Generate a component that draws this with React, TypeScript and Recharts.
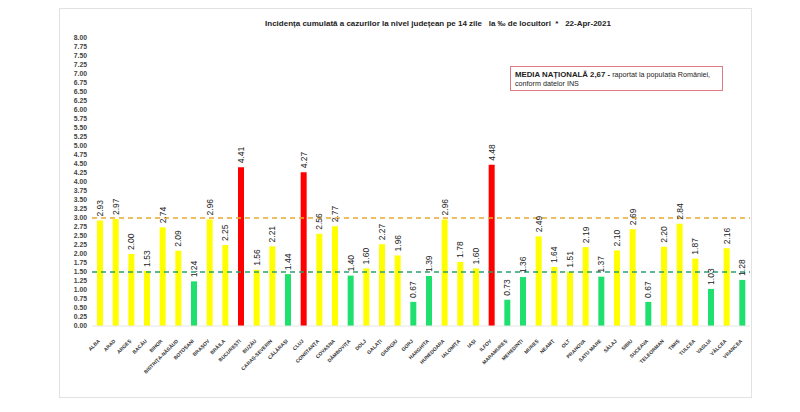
import { BarChart, Bar, XAxis, YAxis, Cell, ReferenceLine, LabelList } from 'recharts';

const counties = [
  'ALBA', 'ARAD', 'ARGEȘ', 'BACĂU', 'BIHOR', 'BISTRIȚA-NĂSĂUD', 'BOTOȘANI', 'BRAȘOV', 'BRĂILA',
  'BUCUREȘTI', 'BUZĂU', 'CARAȘ-SEVERIN', 'CĂLĂRAȘI', 'CLUJ', 'CONSTANȚA', 'COVASNA', 'DÂMBOVIȚA',
  'DOLJ', 'GALAȚI', 'GIURGIU', 'GORJ', 'HARGHITA', 'HUNEDOARA', 'IALOMIȚA', 'IAȘI', 'ILFOV',
  'MARAMUREȘ', 'MEHEDINȚI', 'MUREȘ', 'NEAMȚ', 'OLT', 'PRAHOVA', 'SATU MARE', 'SĂLAJ', 'SIBIU',
  'SUCEAVA', 'TELEORMAN', 'TIMIȘ', 'TULCEA', 'VASLUI', 'VÂLCEA', 'VRANCEA',
];

const incidence = [
  2.93, 2.97, 2.0, 1.53, 2.74, 2.09, 1.24, 2.96, 2.25,
  4.41, 1.56, 2.21, 1.44, 4.27, 2.56, 2.77, 1.4,
  1.6, 2.27, 1.96, 0.67, 1.39, 2.96, 1.78, 1.6, 4.48,
  0.73, 1.36, 2.49, 1.64, 1.51, 2.19, 1.37, 2.1, 2.69,
  0.67, 2.2, 2.84, 1.87, 1.03, 2.16, 1.28,
];

const yTicks = Array.from({ length: 33 }, (_, i) => i * 0.25);

const data = counties.map((name, i) => ({ name, value: incidence[i] }));

function barColor(v: number) {
  if (v > 3) return '#ff0000';
  if (v < 1.5) return '#1fe06e';
  return '#ffff00';
}

const FONT = '"Liberation Sans", Arial, sans-serif';

function ValueLabel(props: any) {
  const { x, y, width, value } = props;
  const cx = x + width / 2;
  const ty = y - 4;
  return (
    <text
      x={cx}
      y={ty}
      transform={`rotate(-90, ${cx}, ${ty})`}
      textAnchor="start"
      dominantBaseline="central"
      fontSize={8.5}
      fontFamily={FONT}
      fill="#222"
    >
      {Number(value).toFixed(2)}
    </text>
  );
}

function CountyTick(props: any) {
  const { x, y, payload } = props;
  const tx = x - 1;
  const ty = y + 6;
  return (
    <text
      x={tx}
      y={ty}
      transform={`rotate(-45, ${tx}, ${ty})`}
      textAnchor="end"
      dominantBaseline="central"
      fontSize={5}
      fontWeight="bold"
      fontFamily={FONT}
      fill="#333"
    >
      {payload.value}
    </text>
  );
}

export default function App() {
  return (
    <div style={{ position: 'absolute', left: 0, top: 0, width: 800, height: 412, background: '#fff', fontFamily: FONT }}>
      <div style={{ position: 'absolute', left: 59, top: 8, width: 691, height: 388, border: '1px solid #e2e2e2' }} />
      <div style={{ position: 'absolute', left: 263, top: 19, width: 350, textAlign: 'center', fontSize: 8, fontWeight: 'bold', color: '#222', whiteSpace: 'pre' }}>
        {'Incidența cumulată a cazurilor la nivel județean pe 14 zile   la ‰ de locuitori  *   22-Apr-2021'}
      </div>
      <div style={{ position: 'absolute', left: 510, top: 66, width: 213, height: 25, border: '1px solid #e07a80', boxSizing: 'border-box', padding: '3px 0 0 4px', fontSize: 7.2, lineHeight: '9px', color: '#222' }}>
        <span style={{ fontWeight: 'bold', fontSize: 7.8 }}>MEDIA NAȚIONALĂ 2,67 - </span>
        raportat la populația României,
        <br />
        conform datelor INS
      </div>
      <div style={{ position: 'absolute', left: 0, top: 0 }}>
        <BarChart width={800} height={412} data={data} margin={{ top: 38, right: 50, bottom: 36, left: 62 }} barCategoryGap={0}>
          <XAxis
            dataKey="name"
            interval={0}
            tick={<CountyTick />}
            tickLine={false}
            axisLine={{ stroke: '#e6e6e6' }}
            height={50}
          />
          <YAxis
            domain={[0, 8]}
            ticks={yTicks}
            interval={0}
            width={30}
            tickSize={0}
            tickMargin={5}
            tickLine={false}
            axisLine={false}
            tickFormatter={(v: number) => v.toFixed(2)}
            tick={{ fontSize: 6.8, fontWeight: 'bold', fill: '#444', fontFamily: FONT }}
          />
          <Bar dataKey="value" barSize={6} isAnimationActive={false}>
            {data.map((d, i) => (
              <Cell key={`c-${i}`} fill={barColor(d.value)} />
            ))}
            <LabelList dataKey="value" content={<ValueLabel />} />
          </Bar>
          <ReferenceLine y={3} stroke="#e8a930" strokeWidth={1.3} strokeDasharray="5 4" />
          <ReferenceLine y={1.5} stroke="#2a9f70" strokeWidth={1.3} strokeDasharray="5 4" />
        </BarChart>
      </div>
    </div>
  );
}
